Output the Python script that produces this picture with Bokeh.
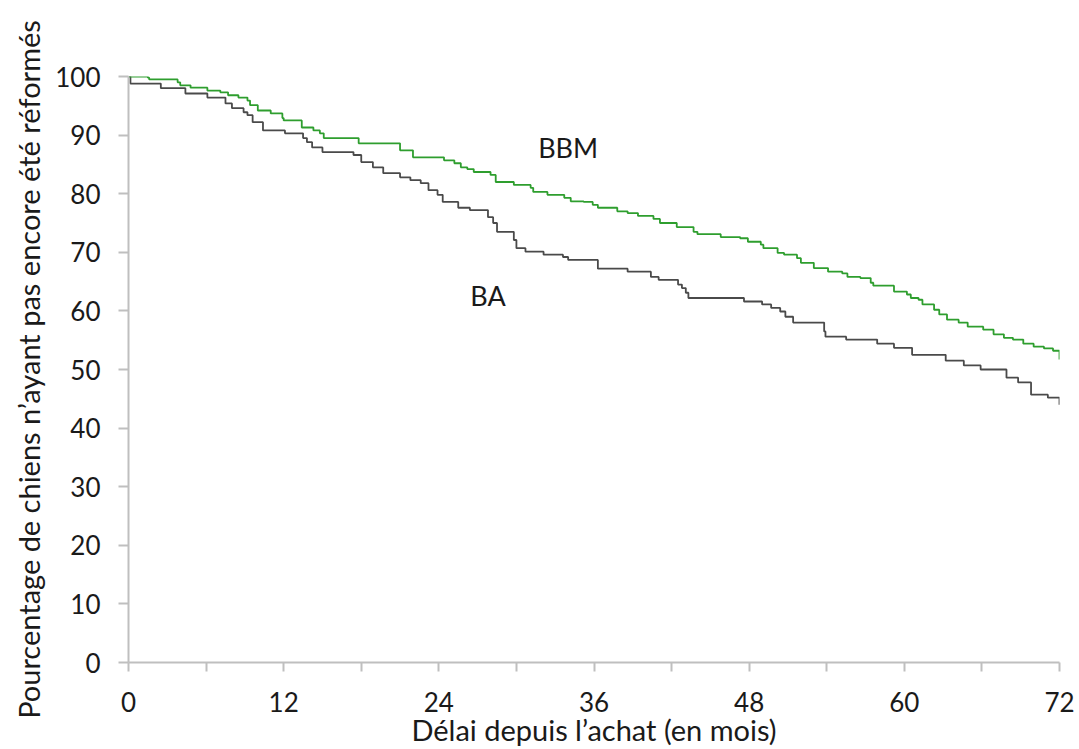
from bokeh.plotting import figure
from bokeh.models import Range1d, FixedTicker
from bokeh.core.properties import value
from bokeh.embed import file_html
from bokeh.resources import INLINE

# BBM survival curve (months, % not yet retired)
bbm_t = [0, 1.5, 1.6, 3.8, 4.0, 4.8, 6.1, 7.1, 7.7, 8.5, 9.2, 9.4, 10.0, 11.0, 11.9, 12.0,
         13.4, 14.3, 14.8, 15.1, 17.8, 21.0, 22.0, 24.4, 25.2, 25.7, 26.2, 26.7, 28.0, 28.4,
         29.8, 31.1, 31.3, 32.4, 33.7, 34.2, 35.2, 35.9, 36.3, 37.8, 38.6, 39.4, 40.6, 41.1,
         42.4, 43.7, 44.0, 45.8, 47.3, 47.9, 48.9, 49.1, 50.2, 50.7, 51.7, 52.0, 53.0, 54.1,
         55.2, 55.6, 56.6, 57.4, 57.6, 59.2, 60.2, 60.5, 61.1, 61.4, 62.3, 62.7, 63.3, 64.2,
         64.9, 66.1, 66.9, 67.7, 68.4, 69.2, 70.0, 70.8, 71.5, 72.0]
bbm_v = [100, 99.8, 99.5, 99.0, 98.5, 98.1, 97.6, 97.3, 96.8, 96.4, 95.9, 95.1, 94.2, 93.7, 92.9, 92.5,
         91.3, 90.8, 90.3, 89.5, 88.6, 87.4, 86.2, 85.7, 85.2, 84.5, 84.2, 83.7, 83.2, 82.0,
         81.5, 81.0, 80.3, 79.8, 79.3, 78.7, 78.6, 78.1, 77.6, 77.0, 76.7, 76.2, 75.7, 75.0,
         74.3, 73.5, 73.1, 72.6, 72.4, 71.8, 71.3, 70.7, 69.9, 69.6, 69.0, 68.2, 67.3, 66.7,
         66.4, 65.8, 65.6, 64.8, 64.3, 63.3, 62.8, 62.2, 61.9, 61.1, 60.2, 59.4, 58.5, 58.0,
         57.3, 56.8, 56.0, 55.4, 55.1, 54.4, 53.9, 53.6, 53.2, 51.7]

# BA survival curve
ba_t = [0, 0.15, 2.5, 4.4, 6.1, 7.5, 8.0, 8.9, 9.2, 9.6, 10.4, 12.1, 13.5, 13.8, 14.2, 15.0,
        17.4, 18.0, 18.9, 19.7, 21.0, 21.8, 22.6, 23.2, 23.9, 24.3, 25.5, 26.4, 27.8, 28.2,
        28.5, 29.8, 30.0, 30.7, 32.1, 33.6, 34.0, 36.3, 38.6, 40.4, 41.0, 42.5, 42.8, 43.1,
        43.3, 47.6, 49.0, 49.7, 50.4, 50.8, 51.4, 53.8, 53.9, 55.5, 57.9, 59.2, 60.6, 63.2,
        64.6, 65.9, 67.9, 68.8, 69.8, 71.1, 72.0]
ba_v = [100, 98.8, 98.0, 97.1, 96.4, 95.4, 94.6, 93.9, 93.4, 92.2, 90.8, 90.3, 89.5, 88.8, 87.9, 87.1,
        86.6, 85.4, 84.5, 83.5, 82.8, 82.3, 81.8, 80.6, 79.8, 78.6, 77.6, 77.2, 76.0, 75.0,
        73.5, 72.1, 70.7, 70.1, 69.6, 69.2, 68.7, 67.2, 66.7, 65.8, 65.3, 64.5, 63.9, 63.1,
        62.2, 61.6, 61.1, 60.5, 59.9, 59.0, 58.0, 56.5, 55.6, 55.1, 54.4, 53.7, 52.5, 51.5,
        50.7, 50.0, 48.6, 47.8, 45.7, 45.2, 44.0]

x_major = [0, 12, 24, 36, 48, 60, 72]
x_minor = [6, 18, 30, 42, 54, 66]
y_ticks = [0, 10, 20, 30, 40, 50, 60, 70, 80, 90, 100]

series_labels = ["BBM", "BA"]
label_x = [34.0, 27.8]
label_y = [87.9, 62.6]

FONT = "Lato"
AXIS_COLOR = "#bfbfbf"

p = figure(width=1079, height=749, output_backend="svg", toolbar_location=None,
           x_range=Range1d(0, 72), y_range=Range1d(0, 100),
           min_border_left=128, min_border_right=20, min_border_top=76, min_border_bottom=85)
p.outline_line_color = None
p.xgrid.visible = False
p.ygrid.visible = False
p.background_fill_color = "white"
p.border_fill_color = "white"

p.step(ba_t, ba_v, mode="after", line_color="#4a4a4a", line_width=1.8)
p.step(bbm_t, bbm_v, mode="after", line_color="#2e9e2e", line_width=1.8)

p.text(x=label_x, y=label_y, text=series_labels, text_align="center", text_baseline="middle",
       text_font=value(FONT), text_font_size="27px", text_color="#1a1a1a")

xa = p.xaxis[0]
xa.ticker = FixedTicker(ticks=x_major, minor_ticks=x_minor)
xa.axis_label = "Délai depuis l’achat (en mois)"
ya = p.yaxis[0]
ya.ticker = FixedTicker(ticks=y_ticks)
ya.axis_label = "Pourcentage de chiens n’ayant pas encore été réformés"

for ax in (xa, ya):
    ax.axis_line_color = AXIS_COLOR
    ax.axis_line_width = 2
    ax.major_tick_line_color = AXIS_COLOR
    ax.major_tick_line_width = 2
    ax.minor_tick_line_color = AXIS_COLOR
    ax.minor_tick_line_width = 2
    ax.major_tick_in = 0
    ax.minor_tick_in = 0
    ax.major_label_text_font = FONT
    ax.major_label_text_font_size = "26px"
    ax.major_label_text_color = "#1a1a1a"
    ax.axis_label_text_font = FONT
    ax.axis_label_text_font_size = "29px"
    ax.axis_label_text_font_style = "normal"
    ax.axis_label_text_color = "#1a1a1a"

xa.major_tick_out = 9
xa.minor_tick_out = 9
xa.major_label_standoff = 20
xa.axis_label_standoff = -3
ya.major_tick_out = 10
ya.minor_tick_out = 0
ya.major_label_standoff = 18
ya.axis_label_standoff = 6

open("out.html", "w").write(file_html(p, INLINE))
